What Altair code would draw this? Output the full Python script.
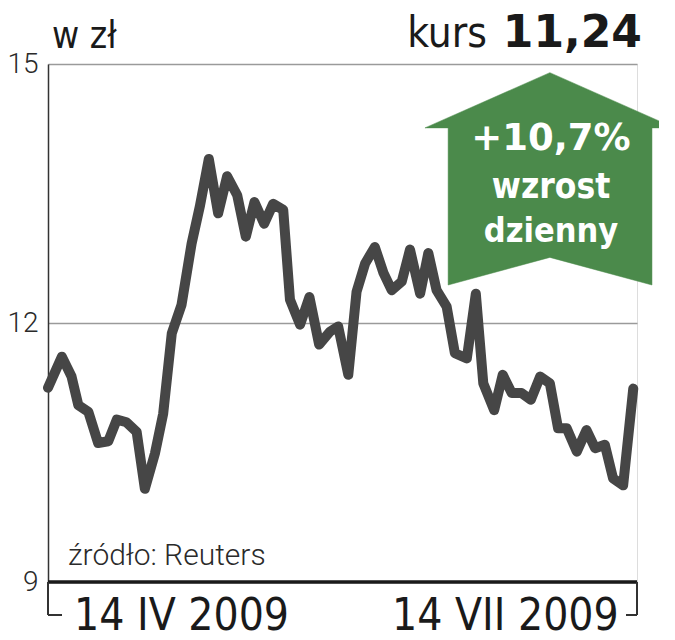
import altair as alt
import pandas as pd

# --- data -------------------------------------------------------------
days = [0, 3.7, 6.3, 8.1, 10.8, 13.4, 16.1, 18.4, 21.0, 23.7, 25.9, 28.6, 30.8,
        33.1, 35.7, 38.4, 40.6, 43.0, 45.5, 47.9, 50.6, 52.9, 55.2, 57.8, 60.2,
        62.9, 64.7, 67.4, 69.9, 72.5, 75.4, 77.6, 80.3, 82.5, 84.8, 87.4, 89.7,
        91.9, 94.6, 96.8, 99.5, 101.7, 103.9, 106.6, 108.8, 112.0, 114.4, 116.4,
        119.3, 121.6, 124.0, 126.6, 129.1, 131.6, 134.2, 136.4, 138.7, 141.4,
        144.0, 146.3, 148.9, 151.1, 153.8, 156.5]
kurs = [11.25, 11.61, 11.38, 11.05, 10.97, 10.61, 10.63, 10.88, 10.85, 10.74,
        10.08, 10.49, 10.95, 11.88, 12.21, 12.92, 13.35, 13.90, 13.27, 13.70,
        13.48, 13.00, 13.40, 13.15, 13.38, 13.31, 12.27, 11.98, 12.30, 11.75,
        11.90, 11.96, 11.40, 12.36, 12.69, 12.88, 12.58, 12.38, 12.48, 12.85,
        12.34, 12.81, 12.38, 12.19, 11.65, 11.59, 12.34, 11.30, 10.99, 11.40,
        11.19, 11.19, 11.11, 11.38, 11.30, 10.78, 10.78, 10.51, 10.76, 10.55,
        10.59, 10.20, 10.12, 11.24]

label_days = [35.7, 122.3]
label_texts = ["14 IV 2009", "14 VII 2009"]
y_ticks = [9, 12, 15]

# arrow outline (in chart units: day, price)
arrow_x = [100.8, 134.2, 167.6, 161.5, 161.5, 134.2, 107.0, 107.0, 100.8]
arrow_y = [14.26, 14.90, 14.26, 14.26, 12.44, 12.76, 12.44, 14.26, 14.26]
arrow_lines = ["+10,7%", "wzrost", "dzienny"]

W, H = 589, 518
GREEN = "#4b8a4b"
LINE = "#464646"
COND = "DejaVu Sans Condensed"

df = pd.DataFrame({"day": days, "kurs": kurs})
arrow_df = pd.DataFrame({"day": arrow_x, "kurs": arrow_y, "i": range(len(arrow_x))})
lab_df = pd.DataFrame({"day": label_days, "txt": label_texts})

xs = alt.Scale(domain=[0, 157.5], nice=False, zero=False)
ys = alt.Scale(domain=[9, 15], nice=False, zero=False)

base = alt.Chart(df)

line = base.mark_line(color=LINE, strokeWidth=10, strokeJoin="round", strokeCap="round").encode(
    x=alt.X("day:Q", scale=xs, axis=None),
    y=alt.Y("kurs:Q", scale=ys, axis=alt.Axis(
        values=y_ticks, format="d", title=None, grid=True, gridColor="#9a9a9a", gridWidth=1.5,
        domain=True, domainColor="#333333", domainWidth=1.5, ticks=False,
        labelFont="Roboto", labelFontWeight=300, labelFontSize=28, labelColor="#2a2a2a",
        labelPadding=10)),
    order="day:Q",
)

arrow = alt.Chart(arrow_df).mark_line(fill=GREEN, stroke=GREEN, strokeWidth=0.5, clip=False).encode(
    x=alt.X("day:Q", scale=xs), y=alt.Y("kurs:Q", scale=ys), order="i:Q")

baseline = alt.Chart(pd.DataFrame({"v": [9]})).mark_rule(color="#1a1a1a", strokeWidth=3.5).encode(
    y=alt.Y("v:Q", scale=ys), x=alt.value(0), x2=alt.value(W))

br = dict(color="#333333", strokeWidth=1.5)
bl1 = alt.Chart(df).mark_rule(**br).encode(x=alt.value(0), y=alt.value(H), y2=alt.value(H + 33))
bl2 = alt.Chart(df).mark_rule(**br).encode(x=alt.value(0), x2=alt.value(14), y=alt.value(H + 33))
br1 = alt.Chart(df).mark_rule(**br).encode(x=alt.value(W), y=alt.value(H), y2=alt.value(H + 33))
br2 = alt.Chart(df).mark_rule(**br).encode(x=alt.value(W - 11), x2=alt.value(W), y=alt.value(H + 33))

xlabels = alt.Chart(lab_df).mark_text(font=COND, fontSize=44, color="#1a1a1a",
                                      align="center", baseline="alphabetic").encode(
    x=alt.X("day:Q", scale=xs), y=alt.value(H + 48), text="txt:N")


def txt(s, x, y, **kw):
    return alt.Chart(pd.DataFrame({"t": [s]})).mark_text(baseline="alphabetic", **kw).encode(
        x=alt.value(x), y=alt.value(y), text="t:N")


t_unit = txt("w zł", 4, -16, font=COND, fontSize=37, align="left", color="#1a1a1a")
t_kurs = txt("kurs", 439, -17, font=COND, fontSize=42, align="right", color="#1a1a1a")
t_val = txt("11,24", 594, -17, font="DejaVu Sans", fontWeight="bold", fontSize=44,
            align="right", color="#1a1a1a")
t_src = txt("źródło: Reuters", 20, 501, font="Roboto", fontWeight=300, fontSize=30,
            align="left", color="#2a2a2a")
a1 = txt(arrow_lines[0], 503, 86, font="DejaVu Sans", fontWeight="bold", fontSize=37,
         align="center", color="white")
a2 = txt(arrow_lines[1], 503, 134, font=COND, fontWeight="bold", fontSize=35,
         align="center", color="white")
a3 = txt(arrow_lines[2], 503, 178, font=COND, fontWeight="bold", fontSize=34,
         align="center", color="white")

chart = alt.layer(
    line, arrow, baseline, bl1, bl2, br1, br2, xlabels,
    t_unit, t_kurs, t_val, t_src, a1, a2, a3
).properties(
    width=W, height=H,
    autosize=alt.AutoSizeParams(type="none"),
    padding={"left": 40, "top": 56, "right": 22, "bottom": 56},
).configure_view(stroke=None).configure(background="white")

chart.save("out.html", embed_options={"renderer": "svg", "actions": False})
